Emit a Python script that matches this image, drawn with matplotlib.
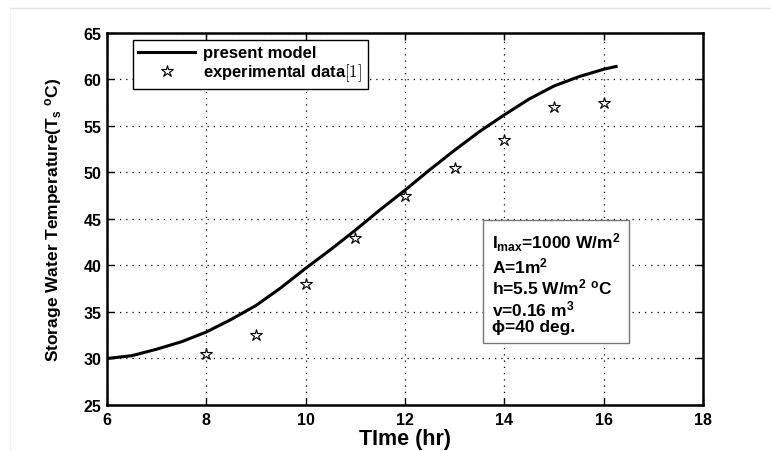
import numpy as np
import matplotlib.pyplot as plt
from matplotlib.lines import Line2D

plt.rcParams['font.family'] = ['Liberation Sans', 'DejaVu Sans']
plt.rcParams['font.weight'] = 'bold'
plt.rcParams['mathtext.fontset'] = 'custom'
plt.rcParams['mathtext.rm'] = 'Liberation Sans:bold'
plt.rcParams['mathtext.it'] = 'Liberation Sans:bold'
plt.rcParams['mathtext.bf'] = 'Liberation Sans:bold'

# model curve (hr, degC)
t_model = [6.0, 6.5, 7.0, 7.5, 8.0, 8.5, 9.0, 9.5, 10.0, 10.5, 11.0, 11.5,
           12.0, 12.5, 13.0, 13.5, 14.0, 14.5, 15.0, 15.5, 16.0, 16.25]
T_model = [30.0, 30.3, 31.0, 31.8, 32.85, 34.2, 35.7, 37.6, 39.7, 41.7, 43.8, 46.0,
           48.1, 50.3, 52.4, 54.4, 56.2, 57.9, 59.3, 60.3, 61.1, 61.4]

# measured points
t_exp = [8, 9, 10, 11, 12, 13, 14, 15, 16]
T_exp = [30.5, 32.5, 38.0, 43.0, 47.5, 50.5, 53.5, 57.0, 57.5]

xticks = [6, 8, 10, 12, 14, 16, 18]
yticks = [25, 30, 35, 40, 45, 50, 55, 60, 65]

fig = plt.figure(figsize=(7.71, 4.52), dpi=100)
ax = fig.add_axes([0.1388, 0.1018, 0.7730, 0.8230])

ax.plot(t_model, T_model, color='black', lw=2.2, label='present model')
ax.plot(t_exp, T_exp, ls='none', marker='*', ms=9, mfc='white', mec='black',
        mew=0.8, label='experimental data$[1]$')

ax.set_xlim(6, 18)
ax.set_ylim(25, 65)
ax.set_xticks(xticks)
ax.set_yticks(yticks)
ax.tick_params(direction='in', top=True, right=True, length=5, width=1,
               labelsize=11.5)
ax.tick_params(axis='x', pad=5)
ax.tick_params(axis='y', pad=4)
for s in ax.spines.values():
    s.set_linewidth(1.8)
ax.grid(True, color='black', ls=(0, (1, 4)), lw=0.9)

ax.set_xlabel('TIme (hr)', fontsize=15.5, fontweight='bold', labelpad=1)
ax.set_ylabel(r'Storage Water Temperature(T$_\mathregular{s}$ $^\mathregular{o}$C)',
              fontsize=12.5, fontweight='bold', labelpad=14)

leg = ax.legend(loc='upper left', bbox_to_anchor=(0.0436, 0.981),
                borderaxespad=0, fancybox=False, edgecolor='black',
                framealpha=1, fontsize=12, handlelength=3.4,
                borderpad=0.32, labelspacing=0.08, handletextpad=0.5)
leg.get_frame().set_linewidth(1.0)
leg.get_texts()[1].set_math_fontfamily('cm')

params = ('I$_{max}$=1000 W/m$^2$\n'
          'A=1m$^2$\n'
          'h=5.5 W/m$^2$ $^o$C\n'
          'v=0.16 m$^3$\n'
          '\u03d5=40 deg.')
ax.text(0.646, 0.468, params, transform=ax.transAxes, ha='left', va='top',
        fontsize=12.5, fontweight='bold', linespacing=1.1,
        bbox=dict(boxstyle='square,pad=0.5', fc='white', ec='#777777', lw=1.0))

# page edges
fig.add_artist(Line2D([10 / 771, 1], [1 - 9 / 452, 1 - 9 / 452],
                      color='#e4e4e4', lw=1))
fig.add_artist(Line2D([10 / 771, 10 / 771], [0, 1 - 9 / 452],
                      color='#f0f0f0', lw=1))

fig.savefig('out.png', dpi=100)
